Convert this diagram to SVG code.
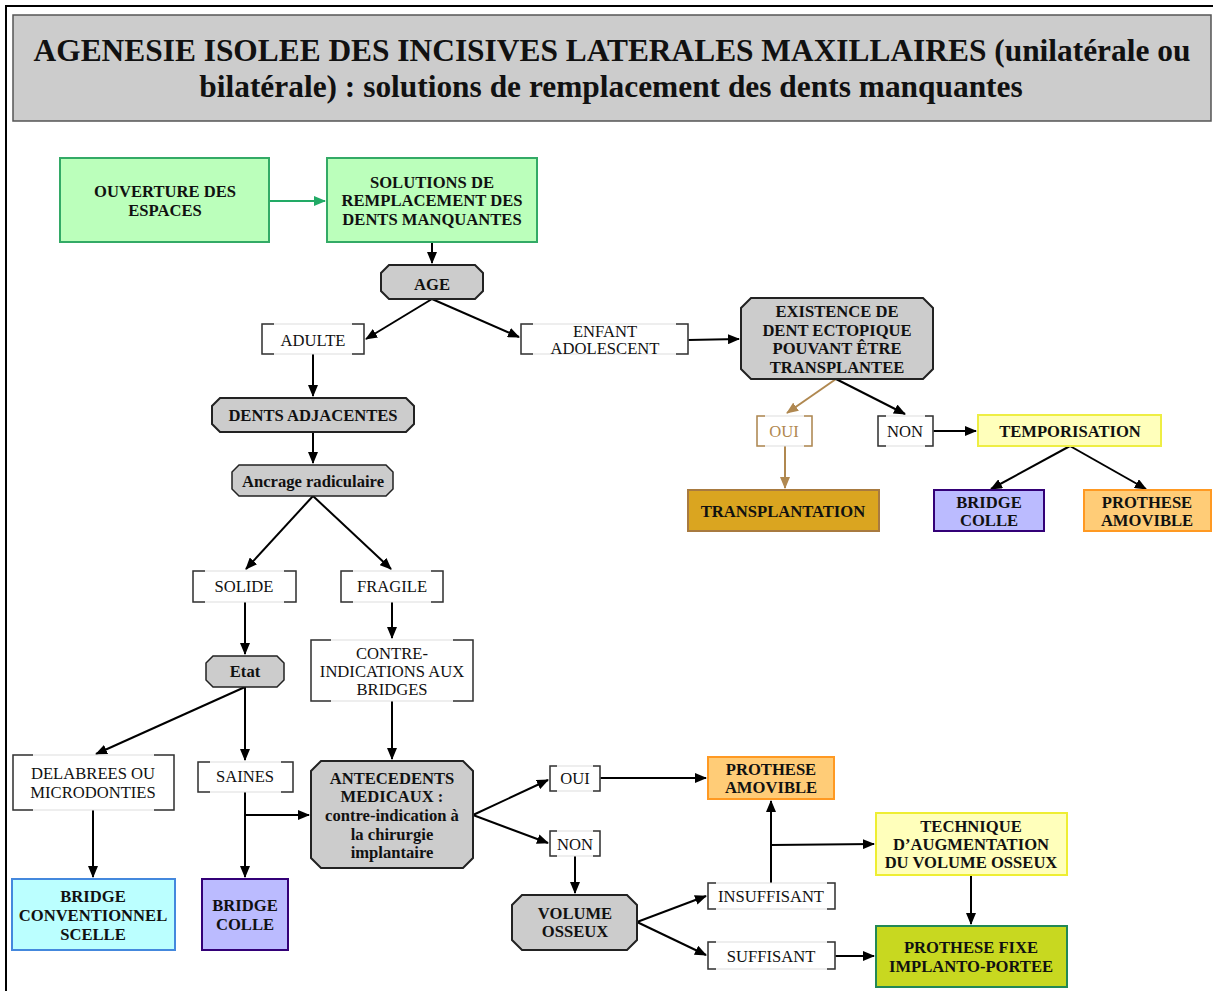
<svg xmlns="http://www.w3.org/2000/svg" width="1213" height="991" viewBox="0 0 1213 991">
<defs>
<marker id="ab" markerWidth="12" markerHeight="10" refX="11" refY="5" orient="auto" markerUnits="userSpaceOnUse"><path d="M0,0 L12,5 L0,10 Z" fill="#000"/></marker>
<marker id="ag" markerWidth="12" markerHeight="10" refX="11" refY="5" orient="auto" markerUnits="userSpaceOnUse"><path d="M0,0 L12,5 L0,10 Z" fill="#22aa66"/></marker>
<marker id="abr" markerWidth="12" markerHeight="10" refX="11" refY="5" orient="auto" markerUnits="userSpaceOnUse"><path d="M0,0 L12,5 L0,10 Z" fill="#b08850"/></marker>
<style>
text{font-family:"Liberation Serif","Times New Roman",serif;font-size:16.6px;text-anchor:middle;fill:#111}
.b{font-weight:bold}
.title{font-size:31.4px;font-weight:bold}
.oct{fill:#cccccc;stroke:#222;stroke-width:2}
.lbl{fill:#fff;stroke:#dddddd;stroke-width:1}
.brk{fill:none;stroke:#333;stroke-width:1.5}
.c{fill:none;stroke:#000;stroke-width:2;marker-end:url(#ab)}
.green{fill:#bbffbb;stroke:#33aa66;stroke-width:2}
</style>
</defs>
<rect x="6" y="6" width="1220" height="1000" fill="#fff" stroke="#000" stroke-width="2"/>
<g id="title">
<rect x="13" y="15" width="1198" height="106" fill="#cccccc" stroke="#555" stroke-width="1.5"/>
<text class="title" x="612" y="61">AGENESIE ISOLEE DES INCISIVES LATERALES MAXILLAIRES (unilatérale ou</text>
<text class="title" x="611" y="97">bilatérale) : solutions de remplacement des dents manquantes</text>
</g>
<g id="connectors">
<path d="M269,201 H325" fill="none" stroke="#22aa66" stroke-width="2" marker-end="url(#ag)"/>
<path class="c" d="M432,242 V263"/>
<path class="c" d="M432,299 L366,339"/>
<path class="c" d="M432,299 L519,337"/>
<path class="c" d="M688,340 L739,339"/>
<path d="M836,379 L787,413" fill="none" stroke="#b08850" stroke-width="2" marker-end="url(#abr)"/>
<path class="c" d="M836,379 L905,414"/>
<path class="c" d="M933,431 H976"/>
<path d="M785,446 V488" fill="none" stroke="#b08850" stroke-width="2" marker-end="url(#abr)"/>
<path class="c" d="M1070,446 L991,489"/>
<path class="c" d="M1070,446 L1146,489"/>
<path class="c" d="M313,354 V396"/>
<path class="c" d="M313,432 V463"/>
<path class="c" d="M313,496 L246,569"/>
<path class="c" d="M313,496 L391,569"/>
<path class="c" d="M245,602 V654"/>
<path class="c" d="M392,602 V638"/>
<path class="c" d="M392,701 V759"/>
<path class="c" d="M245,687 L96,754"/>
<path class="c" d="M245,687 V760"/>
<path class="c" d="M93,810 V877"/>
<path class="c" d="M245,792 V877"/>
<path class="c" d="M245,815 H309"/>
<path class="c" d="M473,815 L548,780"/>
<path class="c" d="M473,815 L548,843"/>
<path class="c" d="M600,778 H706"/>
<path class="c" d="M575,856 V893"/>
<path class="c" d="M637,922 L706,896"/>
<path class="c" d="M637,922 L706,955"/>
<path class="c" d="M771,883 V801"/>
<path class="c" d="M771,845 L874,844"/>
<path class="c" d="M971,875 V924"/>
<path class="c" d="M835,956 H874"/>
</g>
<g id="ouverture"><rect class="green" x="60" y="158" width="209" height="84"/><text class="b" x="165" y="197">OUVERTURE DES</text><text class="b" x="165" y="216">ESPACES</text></g>
<g id="solutions"><rect class="green" x="327" y="158" width="210" height="84"/><text class="b" x="432" y="188">SOLUTIONS DE</text><text class="b" x="432" y="206">REMPLACEMENT DES</text><text class="b" x="432" y="225">DENTS MANQUANTES</text></g>
<g id="age"><path class="oct" d="M389,265 H475 L483,273 V291 L475,299 H389 L381,291 V273 Z"/><text class="b" x="432" y="290">AGE</text></g>
<g id="adulte"><rect class="lbl" x="262" y="324" width="102" height="30"/><path class="brk" d="M274,324 H262 V354 H274 M352,324 H364 V354 H352"/><text x="313" y="346">ADULTE</text></g>
<g id="enfant"><rect class="lbl" x="521" y="324" width="167" height="30"/><path class="brk" d="M533,324 H521 V354 H533 M676,324 H688 V354 H676"/><text x="605" y="337">ENFANT</text><text x="605" y="354">ADOLESCENT</text></g>
<g id="existence"><path class="oct" d="M751,298 H923 L933,308 V369 L923,379 H751 L741,369 V308 Z"/><text class="b" x="837" y="317">EXISTENCE DE</text><text class="b" x="837" y="336">DENT ECTOPIQUE</text><text class="b" x="837" y="354">POUVANT ÊTRE</text><text class="b" x="837" y="373">TRANSPLANTEE</text></g>
<g id="oui1"><rect class="lbl" x="757" y="416" width="55" height="30"/><path d="M765,416 H757 V446 H765 M804,416 H812 V446 H804" fill="none" stroke="#b08850" stroke-width="1.5"/><text x="784" y="437" style="fill:#b08850">OUI</text></g>
<g id="non1"><rect class="lbl" x="878" y="416" width="55" height="30"/><path class="brk" d="M886,416 H878 V446 H886 M925,416 H933 V446 H925"/><text x="905" y="437">NON</text></g>
<g id="temporisation"><rect x="978" y="415" width="183" height="31" fill="#ffffbb" stroke="#eeee44" stroke-width="2"/><text class="b" x="1070" y="437">TEMPORISATION</text></g>
<g id="transplantation"><rect x="688" y="490" width="191" height="41" fill="#daa520" stroke="#a87a40" stroke-width="2"/><text class="b" x="783" y="517">TRANSPLANTATION</text></g>
<g id="bridgecolle1"><rect x="934" y="490" width="110" height="41" fill="#bbbbff" stroke="#330077" stroke-width="2"/><text class="b" x="989" y="508">BRIDGE</text><text class="b" x="989" y="526">COLLE</text></g>
<g id="prothese1"><rect x="1084" y="490" width="127" height="41" fill="#ffcc77" stroke="#ff9922" stroke-width="2"/><text class="b" x="1147" y="508">PROTHESE</text><text class="b" x="1147" y="526">AMOVIBLE</text></g>
<g id="dentsadj"><path class="oct" d="M220,398 H406 L414,406 V424 L406,432 H220 L212,424 V406 Z"/><text class="b" x="313" y="421">DENTS ADJACENTES</text></g>
<g id="ancrage"><path class="oct" style="stroke-width:1.5" d="M239,465 H386 L393,472 V489 L386,496 H239 L232,489 V472 Z"/><text class="b" x="313" y="487">Ancrage radiculaire</text></g>
<g id="solide"><rect class="lbl" x="193" y="571" width="103" height="31"/><path class="brk" d="M205,571 H193 V602 H205 M284,571 H296 V602 H284"/><text x="244" y="592">SOLIDE</text></g>
<g id="fragile"><rect class="lbl" x="341" y="571" width="102" height="31"/><path class="brk" d="M353,571 H341 V602 H353 M431,571 H443 V602 H431"/><text x="392" y="592">FRAGILE</text></g>
<g id="etat"><path class="oct" style="stroke-width:1.5" d="M213,656 H277 L284,663 V680 L277,687 H213 L206,680 V663 Z"/><text class="b" x="245" y="677">Etat</text></g>
<g id="contre"><rect class="lbl" x="311" y="640" width="162" height="61"/><path class="brk" d="M331,640 H311 V701 H331 M453,640 H473 V701 H453"/><text x="392" y="659">CONTRE-</text><text x="392" y="677">INDICATIONS AUX</text><text x="392" y="695">BRIDGES</text></g>
<g id="delabrees"><rect class="lbl" x="13" y="755" width="161" height="55"/><path class="brk" d="M33,755 H13 V810 H33 M154,755 H174 V810 H154"/><text x="93" y="779">DELABREES OU</text><text x="93" y="798">MICRODONTIES</text></g>
<g id="saines"><rect class="lbl" x="198" y="762" width="95" height="30"/><path class="brk" d="M210,762 H198 V792 H210 M281,762 H293 V792 H281"/><text x="245" y="782">SAINES</text></g>
<g id="bridgeconv"><rect x="12" y="879" width="163" height="71" fill="#bbffff" stroke="#4488dd" stroke-width="2"/><text class="b" x="93" y="902">BRIDGE</text><text class="b" x="93" y="921">CONVENTIONNEL</text><text class="b" x="93" y="940">SCELLE</text></g>
<g id="bridgecolle2"><rect x="202" y="879" width="86" height="71" fill="#bbbbff" stroke="#330077" stroke-width="2"/><text class="b" x="245" y="911">BRIDGE</text><text class="b" x="245" y="930">COLLE</text></g>
<g id="antecedents"><path class="oct" d="M321,761 H463 L473,771 V858 L463,868 H321 L311,858 V771 Z"/><text class="b" x="392" y="784">ANTECEDENTS</text><text class="b" x="392" y="802">MEDICAUX :</text><text class="b" x="392" y="821">contre-indication à</text><text class="b" x="392" y="840">la chirurgie</text><text class="b" x="392" y="858">implantaire</text></g>
<g id="oui2"><rect class="lbl" x="550" y="766" width="50" height="25"/><path class="brk" d="M557,766 H550 V791 H557 M593,766 H600 V791 H593"/><text x="575" y="784">OUI</text></g>
<g id="non2"><rect class="lbl" x="550" y="831" width="50" height="25"/><path class="brk" d="M557,831 H550 V856 H557 M593,831 H600 V856 H593"/><text x="575" y="850">NON</text></g>
<g id="prothese2"><rect x="708" y="757" width="126" height="42" fill="#ffcc77" stroke="#ff9922" stroke-width="2"/><text class="b" x="771" y="775">PROTHESE</text><text class="b" x="771" y="793">AMOVIBLE</text></g>
<g id="volume"><path class="oct" d="M522,895 H627 L637,905 V940 L627,950 H522 L512,940 V905 Z"/><text class="b" x="575" y="919">VOLUME</text><text class="b" x="575" y="937">OSSEUX</text></g>
<g id="insuffisant"><rect class="lbl" x="708" y="883" width="127" height="26"/><path class="brk" d="M716,883 H708 V909 H716 M827,883 H835 V909 H827"/><text x="771" y="902">INSUFFISANT</text></g>
<g id="suffisant"><rect class="lbl" x="708" y="942" width="127" height="27"/><path class="brk" d="M716,942 H708 V969 H716 M827,942 H835 V969 H827"/><text x="771" y="962">SUFFISANT</text></g>
<g id="technique"><rect x="876" y="813" width="191" height="62" fill="#ffffbb" stroke="#eeee33" stroke-width="2"/><text class="b" x="971" y="832">TECHNIQUE</text><text class="b" x="971" y="850">D’AUGMENTATION</text><text class="b" x="971" y="868">DU VOLUME OSSEUX</text></g>
<g id="prothesefixe"><rect x="876" y="926" width="191" height="61" fill="#c8d820" stroke="#228855" stroke-width="2"/><text class="b" x="971" y="953">PROTHESE FIXE</text><text class="b" x="971" y="972">IMPLANTO-PORTEE</text></g>
</svg>
